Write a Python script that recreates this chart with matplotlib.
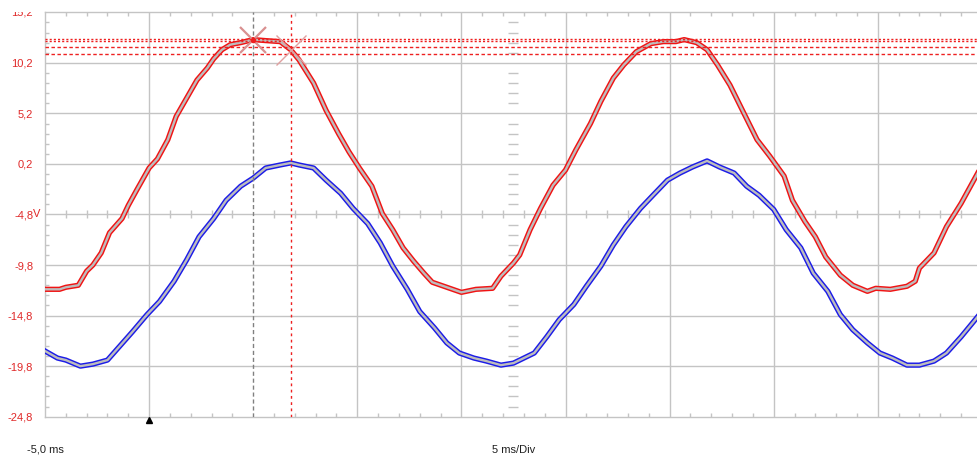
"""
Scope screenshot: two 50 Hz traces (red / blue) with cursors, 5 ms/Div
"""

import numpy as np
import matplotlib
matplotlib.use("Agg")
import matplotlib.pyplot as plt
from matplotlib.transforms import Bbox, TransformedBbox

# --- data (time in ms, voltage in V) ---
red_t = [-5.0, -4.3, -4.0, -3.4, -3.0, -2.7, -2.3, -1.9, -1.3, -1.0, -0.6, 0.0, 0.4, 0.9,
         1.3, 1.8, 2.3, 2.8, 3.1, 3.5, 3.9, 4.4, 5.0, 5.6, 6.3, 6.8, 7.2, 7.9, 8.5, 9.1,
         9.6, 10.1, 10.7, 11.2, 11.7, 12.2, 12.7, 13.2, 13.6, 14.3, 15.0, 15.7, 16.5, 16.9,
         17.5, 17.8, 18.3, 18.8, 19.4, 20.0, 20.5, 21.2, 21.7, 22.3, 22.8, 23.4, 24.1, 24.7,
         25.3, 25.7, 26.3, 26.8, 27.3, 27.9, 28.5, 29.2, 29.8, 30.5, 30.9, 31.5, 32.0, 32.5,
         33.2, 33.8, 34.5, 34.9, 35.6, 36.4, 36.8, 37.0, 37.7, 38.3, 39.0, 39.8]
red_v = [-12.2, -12.2, -12.0, -11.8, -10.4, -9.8, -8.6, -6.6, -5.2, -3.9, -2.4, -0.2, 0.7, 2.6,
         4.9, 6.7, 8.5, 9.7, 10.6, 11.5, 12.0, 12.2, 12.5, 12.4, 12.3, 11.5, 10.5, 8.2, 5.5, 3.2,
         1.4, -0.2, -2.0, -4.7, -6.3, -8.1, -9.4, -10.6, -11.5, -12.0, -12.5, -12.2, -12.1, -10.9,
         -9.6, -8.8, -6.3, -4.2, -1.9, -0.4, 1.6, 4.2, 6.4, 8.7, 10.0, 11.3, 12.1, 12.3,
         12.3, 12.5, 12.2, 11.5, 10.0, 8.0, 5.5, 2.6, 1.0, -1.0, -3.4, -5.5, -7.0, -9.0,
         -10.8, -11.8, -12.4, -12.1, -12.2, -11.9, -11.4, -10.1, -8.6, -6.0, -3.7, -0.7]

blue_t = [-5.0, -4.4, -4.0, -3.3, -2.7, -2.0, -1.4, -0.8, -0.1, 0.5, 1.2, 1.8, 2.4, 3.1,
          3.7, 4.4, 5.0, 5.6, 6.3, 6.8, 7.2, 7.9, 8.5, 9.2, 9.8, 10.5, 11.1, 11.7, 12.4,
          13.0, 13.7, 14.3, 14.9, 15.6, 16.2, 16.9, 17.5, 17.8, 18.5, 19.1, 19.7, 20.4, 21.0,
          21.7, 22.3, 22.9, 23.6, 24.2, 24.9, 25.5, 26.1, 26.8, 27.4, 28.1, 28.7, 29.3, 30.0,
          30.6, 31.3, 31.9, 32.6, 33.2, 33.8, 34.5, 35.1, 35.7, 36.4, 37.0, 37.7, 38.3, 39.0, 39.8]
blue_v = [-18.3, -19.0, -19.2, -19.8, -19.6, -19.2, -17.8, -16.4, -14.7, -13.4, -11.4, -9.3, -7.0, -5.2,
          -3.4, -2.0, -1.2, -0.2, 0.1, 0.3, 0.1, -0.2, -1.4, -2.7, -4.2, -5.7, -7.6, -9.9, -12.2,
          -14.4, -16.0, -17.5, -18.5, -19.0, -19.3, -19.7, -19.5, -19.2, -18.5, -16.9, -15.2, -13.7, -11.9,
          -9.9, -7.8, -6.0, -4.2, -2.9, -1.4, -0.7, -0.1, 0.5, -0.1, -0.7, -2.0, -2.9, -4.3,
          -6.3, -8.1, -10.6, -12.4, -14.7, -16.2, -17.5, -18.5, -19.0, -19.7, -19.7, -19.3, -18.5, -16.9, -14.9]

# cursors
cursor_t = [5.0, 6.8]
cursor_v = [12.57, 12.37, 11.76, 11.03]
marker_pts = [(5.0, 12.5), (6.8, 11.5)]

y_major = [15.2, 10.2, 5.2, 0.2, -4.8, -9.8, -14.8, -19.8, -24.8]
y_labels = ["15,2", "10,2", "5,2", "0,2", "-4,8", "-9,8", "-14,8", "-19,8", "-24,8"]

T0, T1 = -5.0, 40.0
V0, V1 = -24.8, 15.2

GRID = "#c4c4c4"
LABEL_RED = "#e02828"


def draw_trace(ax, t, v, edge):
    """Scope style trace: coloured outline with grey envelope inside"""
    ax.plot(t, v, color=edge, lw=3.8, solid_joinstyle="round", zorder=3)
    ax.plot(t, v, color="#bdbdbd", lw=1.7, solid_joinstyle="round", zorder=4)


fig = plt.figure(figsize=(9.78, 4.55), dpi=100)
W, H = 978.0, 455.0
px_per_ms = 20.82
ax = fig.add_axes([45 / W, (H - 416.7) / H, 45 * px_per_ms / W, (416.7 - 12.3) / H])
ax.set_xlim(T0, T1)
ax.set_ylim(V0, V1)

for s in ["left", "top", "bottom", "right"]:
    ax.spines[s].set_color(GRID)
    ax.spines[s].set_linewidth(1.0)

# major grid (the 5 ms line is covered by the grey cursor)
for t in np.arange(0, 40, 5):
    if t != cursor_t[0]:
        ax.axvline(t, color=GRID, lw=1.0, zorder=1)
for v in y_major[1:-1]:
    ax.axhline(v, color=GRID, lw=1.0, zorder=1)

# ticks
ax.set_xticks(np.arange(T0, T1 + 0.1, 5))
ax.set_xticklabels([])
ax.set_xticks(np.arange(T0, T1 + 0.1, 1), minor=True)
ax.set_yticks(y_major)
ax.set_yticklabels(y_labels, color=LABEL_RED, fontsize=8, family="Liberation Sans")
ax.set_yticks(np.arange(V0, V1 + 0.1, 1), minor=True)
ax.tick_params(which="major", length=0, pad=8.5)
ax.tick_params(which="minor", direction="in", length=3, width=1, color=GRID,
               top=True, bottom=True, left=True, right=True)

# centre cross ticks
minor_t = [t for t in np.arange(T0 + 1, T1, 1) if abs(t % 5) > 0.01]
ax.plot(minor_t, [-4.8] * len(minor_t), ls="none", marker="|", ms=6, mew=1.0, color=GRID, zorder=1)
minor_v = [v for v in np.arange(V0 + 1, V1, 1) if abs((v - V0) % 5) > 0.01 and abs((v - V0) % 5 - 5) > 0.01]
ax.plot([17.5] * len(minor_v), minor_v, ls="none", marker="_", ms=6.5, mew=1.0, color=GRID, zorder=1)

# 15,2 label is clipped by the top border in the original, redraw it by hand
ax.get_yticklabels()[0].set_visible(False)
top_lbl = ax.text(-12 / (45 * px_per_ms), 15.2, "15,2", transform=ax.get_yaxis_transform(),
                  ha="right", va="center", color=LABEL_RED, fontsize=8, family="Liberation Sans")
top_lbl.set_clip_box(TransformedBbox(Bbox([[-0.1, 0], [1, 1]]), ax.transAxes))
top_lbl.set_clip_on(True)
ax.text(-12 / (45 * px_per_ms), -4.8, "V", transform=ax.get_yaxis_transform(),
        ha="left", va="center", color=LABEL_RED, fontsize=8, family="Liberation Sans")

# traces
draw_trace(ax, red_t, red_v, "#f01414")
draw_trace(ax, blue_t, blue_v, "#1c1ce8")

# cursors
ax.axvline(cursor_t[0], color="#808080", lw=1.0, ls=(0, (3, 2)), zorder=5)
ax.axvline(cursor_t[1], color="#ee2020", lw=1.0, ls=(0, (2, 2.5)), zorder=5)
ax.axhline(cursor_v[0], color="#ee2020", lw=1.0, ls=(0, (1.5, 1.5)), zorder=5)
ax.axhline(cursor_v[1], color="#ee2020", lw=1.0, ls=(0, (1.5, 1.5)), zorder=5)
ax.axhline(cursor_v[2], color="#ee2020", lw=1.0, ls=(0, (2.5, 1.8)), zorder=5)
ax.axhline(cursor_v[3], color="#ee2020", lw=1.0, ls=(0, (2.5, 1.8)), zorder=5)
ax.plot(*marker_pts[0], marker="x", ms=19, mew=1.6, color="#d99090", zorder=6)
ax.plot(*marker_pts[0], marker="o", ms=3, color="#ee2020", zorder=7)
ax.plot(*marker_pts[1], marker="x", ms=21, mew=1.0, color="#e0a0a0", zorder=6)

# trigger mark
ax.plot([0.0], [V0 - 0.35], marker="^", ms=4.5, color="black", clip_on=False, zorder=6)

fig.text(27 / W, (H - 450) / H, "-5,0 ms", ha="left", va="center", fontsize=8,
         family="Liberation Sans", color="#202020")
fig.text(514 / W, (H - 450) / H, "5 ms/Div", ha="center", va="center", fontsize=8,
         family="Liberation Sans", color="#202020")

fig.savefig("out.png", dpi=100)
plt.close(fig)
